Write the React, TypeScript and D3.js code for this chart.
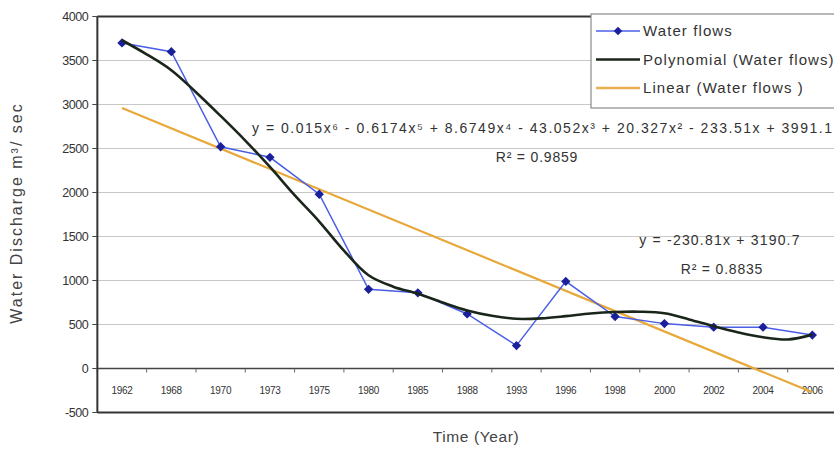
import React from 'react';
import * as d3 from 'd3';

const years = ['1962', '1968', '1970', '1973', '1975', '1980', '1985', '1988', '1993', '1996', '1998', '2000', '2002', '2004', '2006'];
const waterFlows = [3700, 3600, 2520, 2400, 1980, 900, 860, 620, 260, 990, 590, 510, 470, 470, 380];
const polyX = [1, 1.5, 2, 2.5, 3, 3.5, 4, 4.5, 5, 5.5, 6, 6.5, 7, 7.5, 8, 8.5, 9, 9.5, 10, 10.5, 11, 11.5, 12, 12.5, 13, 13.5, 14, 14.5, 15];
const polyY = [3730, 3570, 3390, 3140, 2870, 2590, 2290, 1970, 1670, 1340, 1060, 930, 850, 750, 660, 600, 565, 570, 595, 625, 642, 645, 628, 558, 480, 410, 355, 330, 385];
const linearX = [1, 15];
const linearY = [2960, -271];
const yTicks = [-500, 0, 500, 1000, 1500, 2000, 2500, 3000, 3500, 4000];
const legendLabels = ['Water flows', 'Polynomial (Water flows)', 'Linear (Water flows )'];

const W = 834, H = 454;
const plotLeft = 97.35, plotRight = 837, plotTop = 16.5, plotBottom = 412.5;
const font = "'Liberation Sans', Arial, sans-serif";

export default function App() {
  const xBand = d3.scaleBand<string>().domain(years).range([plotLeft, plotRight]).padding(0);
  const bw = xBand.bandwidth();
  const xNum = d3.scaleLinear().domain([0.5, years.length + 0.5]).range([plotLeft, plotRight]);
  const y = d3.scaleLinear().domain([-500, 4000]).range([plotBottom, plotTop]);

  const flowLine = d3.line<number>().x((_, i) => xBand(years[i])! + bw / 2).y(d => y(d));
  const polyLine = d3.line<number>().x((_, i) => xNum(polyX[i])).y(d => y(d)).curve(d3.curveCatmullRom.alpha(0.5));
  const linLine = d3.line<number>().x((_, i) => xNum(linearX[i])).y(d => y(d));

  const y0 = y(0);
  const boundaries = d3.range(years.length + 1).map(i => plotLeft + i * bw);

  return (
    <svg width={W} height={H} style={{ position: 'absolute', left: 0, top: 0, background: '#fff' }} fontFamily={font}>
      <rect x={0} y={0} width={W} height={H} fill="#fff" />
      {/* grid */}
      {yTicks.map(t => (
        <line key={t} x1={plotLeft} x2={plotRight} y1={y(t)} y2={y(t)} stroke="#c8c8c8" strokeWidth={1.2} />
      ))}
      {/* zero axis */}
      <line x1={plotLeft} x2={plotRight} y1={y0} y2={y0} stroke="#444" strokeWidth={1.5} />
      {boundaries.map((b, i) => (
        <line key={i} x1={b} x2={b} y1={y0} y2={y0 + 4} stroke="#666" strokeWidth={1} />
      ))}
      {years.map(yr => (
        <text key={yr} x={xBand(yr)! + bw / 2} y={y0 + 25} textAnchor="middle" fontSize={10} fill="#333" letterSpacing={-0.3}>{yr}</text>
      ))}
      {/* borders */}
      <line x1={plotLeft} x2={plotRight} y1={plotTop} y2={plotTop} stroke="#333" strokeWidth={2} />
      <line x1={plotLeft} x2={plotRight} y1={plotBottom} y2={plotBottom} stroke="#333" strokeWidth={2} />
      <line x1={plotLeft} x2={plotLeft} y1={plotTop} y2={plotBottom} stroke="#333" strokeWidth={2} />
      {yTicks.map(t => (
        <g key={t}>
          <line x1={plotLeft - 5} x2={plotLeft} y1={y(t)} y2={y(t)} stroke="#444" strokeWidth={1} />
          <text x={plotLeft - 9} y={y(t)} dy="0.35em" textAnchor="end" fontSize={12.5} fill="#333" letterSpacing={-0.4}>{t}</text>
        </g>
      ))}
      {/* series */}
      <path d={linLine(linearY)!} fill="none" stroke="#e8a83a" strokeWidth={2.2} />
      <path d={flowLine(waterFlows)!} fill="none" stroke="#4a5fe6" strokeWidth={1.5} />
      {waterFlows.map((v, i) => (
        <rect key={i} x={xBand(years[i])! + bw / 2 - 3.3} y={y(v) - 3.3} width={6.6} height={6.6} fill="#1a1f9a" transform={`rotate(45 ${xBand(years[i])! + bw / 2} ${y(v)})`} />
      ))}
      <path d={polyLine(polyY)!} fill="none" stroke="#1b261b" strokeWidth={2.6} />
      {/* equations */}
      <text x={252} y={133} fontSize={14} fill="#333" textLength={580} lengthAdjust="spacing">
        y = 0.015x⁶ - 0.6174x⁵ + 8.6749x⁴ - 43.052x³ + 20.327x² - 233.51x + 3991.1
      </text>
      <text x={537} y={162} textAnchor="middle" fontSize={14} fill="#333" letterSpacing={0.8}>R² = 0.9859</text>
      <text x={720} y={245} textAnchor="middle" fontSize={14} fill="#333" letterSpacing={1.2}>y = -230.81x + 3190.7</text>
      <text x={722} y={274} textAnchor="middle" fontSize={14} fill="#333" letterSpacing={0.8}>R² = 0.8835</text>
      {/* legend */}
      <rect x={591} y={14} width={260} height={94} fill="#fff" stroke="#8a8a8a" strokeWidth={1.2} />
      {legendLabels.map((lab, i) => {
        const ly = 31 + i * 28.5;
        const col = i === 0 ? '#4a5fe6' : i === 1 ? '#1b261b' : '#e8b050';
        return (
          <g key={lab}>
            <line x1={596} x2={640} y1={ly} y2={ly} stroke={col} strokeWidth={i === 0 ? 1.5 : 2.6} />
            {i === 0 && <rect x={615} y={ly - 3} width={6} height={6} fill="#1a1f9a" transform={`rotate(45 618 ${ly})`} />}
            <text x={643} y={ly} dy="0.35em" fontSize={15} fill="#333" letterSpacing={1.1}>{lab}</text>
          </g>
        );
      })}
      {/* axis titles */}
      <text transform="translate(22,213) rotate(-90)" textAnchor="middle" fontSize={16} fill="#444" letterSpacing={2}>Water Discharge m³/ sec</text>
      <text x={476} y={442} textAnchor="middle" fontSize={15.5} fill="#444" letterSpacing={0.6}>Time (Year)</text>
    </svg>
  );
}
